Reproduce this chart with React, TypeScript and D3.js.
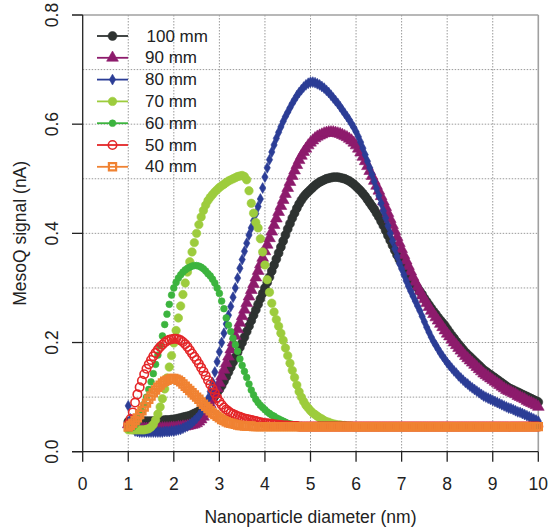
import React from "react";
import * as d3 from "d3";

// Nanoparticle diameter grid (nm), shared by all series
const diameters = [
  1.0, 1.05, 1.1, 1.15, 1.2, 1.25, 1.3, 1.35, 1.4, 1.45,
  1.5, 1.55, 1.6, 1.65, 1.7, 1.75, 1.8, 1.85, 1.9, 1.95,
  2.0, 2.05, 2.1, 2.15, 2.2, 2.25, 2.3, 2.35, 2.4, 2.45,
  2.5, 2.55, 2.6, 2.65, 2.7, 2.75, 2.8, 2.85, 2.9, 2.95,
  3.0, 3.05, 3.1, 3.15, 3.2, 3.25, 3.3, 3.35, 3.4, 3.45,
  3.5, 3.55, 3.6, 3.65, 3.7, 3.75, 3.8, 3.85, 3.9, 3.95,
  4.0, 4.05, 4.1, 4.15, 4.2, 4.25, 4.3, 4.35, 4.4, 4.45,
  4.5, 4.55, 4.6, 4.65, 4.7, 4.75, 4.8, 4.85, 4.9, 4.95,
  5.0, 5.05, 5.1, 5.15, 5.2, 5.25, 5.3, 5.35, 5.4, 5.45,
  5.5, 5.55, 5.6, 5.65, 5.7, 5.75, 5.8, 5.85, 5.9, 5.95,
  6.0, 6.05, 6.1, 6.15, 6.2, 6.25, 6.3, 6.35, 6.4, 6.45,
  6.5, 6.55, 6.6, 6.65, 6.7, 6.75, 6.8, 6.85, 6.9, 6.95,
  7.0, 7.05, 7.1, 7.15, 7.2, 7.25, 7.3, 7.35, 7.4, 7.45,
  7.5, 7.55, 7.6, 7.65, 7.7, 7.75, 7.8, 7.85, 7.9, 7.95,
  8.0, 8.05, 8.1, 8.15, 8.2, 8.25, 8.3, 8.35, 8.4, 8.45,
  8.5, 8.55, 8.6, 8.65, 8.7, 8.75, 8.8, 8.85, 8.9, 8.95,
  9.0, 9.05, 9.1, 9.15, 9.2, 9.25, 9.3, 9.35, 9.4, 9.45,
  9.5, 9.55, 9.6, 9.65, 9.7, 9.75, 9.8, 9.85, 9.9, 9.95,
  10.0,
];

// MesoQ signal (nA) for each distance
const signal100 = [
  .055, .055, .055, .055, .056, .056, .056, .056, .056, .056,
  .056, .056, .057, .057, .057, .057, .058, .058, .058, .059,
  .059, .06, .061, .062, .063, .064, .065, .066, .068, .07,
  .072, .074, .077, .08, .084, .088, .092, .097, .102, .108,
  .114, .121, .129, .137, .146, .155, .164, .173, .182, .191,
  .2, .21, .22, .23, .24, .25, .26, .27, .28, .29,
  .3, .31, .32, .331, .342, .353, .364, .375, .386, .397,
  .408, .418, .428, .437, .446, .454, .461, .467, .472, .476,
  .48, .484, .488, .491, .494, .496, .498, .5, .501, .502,
  .503, .503, .503, .502, .501, .5, .498, .496, .493, .49,
  .486, .482, .478, .473, .468, .462, .456, .45, .444, .437,
  .43, .422, .414, .405, .396, .387, .378, .369, .36, .352,
  .345, .338, .331, .325, .318, .312, .306, .3, .294, .288,
  .281, .275, .269, .263, .257, .252, .246, .241, .236, .231,
  .225, .219, .213, .208, .202, .197, .192, .187, .182, .178,
  .174, .17, .166, .162, .158, .154, .15, .147, .144, .141,
  .138, .135, .132, .129, .126, .123, .12, .117, .115, .113,
  .111, .109, .107, .105, .103, .101, .099, .097, .095, .093,
  .091,
];

const signal90 = [
  .05, .047, .045, .044, .043, .042, .042, .042, .042, .042,
  .042, .042, .042, .042, .042, .043, .043, .043, .043, .044,
  .044, .044, .045, .045, .046, .046, .047, .048, .049, .05,
  .052, .055, .059, .064, .07, .078, .087, .096, .106, .116,
  .126, .138, .15, .162, .174, .187, .2, .212, .224, .236,
  .248, .26, .272, .284, .296, .307, .319, .331, .343, .355,
  .367, .379, .391, .403, .415, .427, .439, .45, .461, .472,
  .483, .494, .505, .515, .525, .534, .542, .549, .555, .561,
  .566, .57, .574, .577, .579, .581, .583, .584, .585, .585,
  .585, .584, .583, .582, .58, .578, .576, .573, .57, .566,
  .561, .555, .548, .54, .532, .523, .514, .505, .496, .487,
  .478, .468, .458, .448, .437, .426, .415, .404, .393, .382,
  .371, .36, .35, .34, .33, .32, .311, .302, .294, .286,
  .279, .272, .265, .258, .252, .246, .24, .234, .228, .222,
  .216, .211, .205, .2, .195, .19, .185, .18, .175, .171,
  .167, .163, .159, .155, .151, .147, .143, .14, .137, .134,
  .131, .128, .125, .122, .119, .116, .113, .111, .109, .107,
  .105, .102, .1, .098, .096, .093, .091, .089, .087, .085,
  .082,
];

const signal80 = [
  .084, .06, .042, .038, .037, .036, .036, .036, .036, .036,
  .036, .036, .036, .036, .036, .036, .037, .037, .037, .038,
  .038, .039, .04, .041, .043, .045, .047, .05, .053, .057,
  .061, .066, .072, .079, .087, .097, .11, .127, .146, .165,
  .183, .2, .217, .234, .25, .266, .283, .3, .318, .336,
  .352, .367, .382, .397, .41, .423, .436, .449, .463, .483,
  .503, .52, .535, .549, .562, .574, .585, .595, .605, .614,
  .622, .63, .638, .645, .652, .658, .663, .668, .672, .675,
  .677, .677, .676, .674, .672, .669, .666, .662, .658, .653,
  .648, .643, .638, .632, .626, .62, .614, .608, .601, .594,
  .586, .577, .567, .556, .544, .532, .52, .508, .495, .482,
  .469, .455, .441, .428, .414, .4, .386, .372, .358, .345,
  .335, .324, .313, .303, .294, .285, .276, .267, .258, .248,
  .238, .228, .219, .21, .202, .195, .188, .181, .175, .169,
  .163, .158, .153, .148, .144, .139, .135, .131, .127, .124,
  .12, .117, .114, .111, .108, .105, .102, .1, .098, .096,
  .094, .092, .09, .088, .086, .084, .082, .08, .079, .077,
  .075, .073, .072, .07, .068, .066, .064, .062, .06, .058,
  .056,
];

const signal70 = [
  .04, .04, .04, .04, .04, .04, .04, .04, .041, .042,
  .045, .05, .058, .069, .082, .097, .115, .135, .155, .176,
  .199, .222, .245, .267, .288, .309, .329, .348, .366, .383,
  .4, .416, .43, .442, .452, .46, .466, .471, .476, .48,
  .484, .487, .49, .493, .496, .498, .5, .502, .504, .505,
  .506, .504, .498, .478, .455, .437, .42, .41, .39, .366,
  .342, .315, .292, .272, .256, .242, .23, .217, .204, .19,
  .176, .162, .149, .136, .122, .11, .1, .092, .085, .08,
  .075, .071, .068, .065, .062, .06, .057, .055, .054, .052,
  .051, .05, .049, .049, .048, .048, .047, .047, .047, .046,
  .046, .046, .046, .046, .046, .046, .046, .046, .046, .046,
  .046, .046, .046, .046, .046, .046, .046, .046, .046, .046,
  .046, .046, .046, .046, .046, .046, .046, .046, .046, .046,
  .046, .046, .046, .046, .046, .046, .046, .046, .046, .046,
  .046, .046, .046, .046, .046, .046, .046, .046, .046, .046,
  .046, .046, .046, .046, .046, .046, .046, .046, .046, .046,
  .046, .046, .046, .046, .046, .046, .046, .046, .046, .046,
  .046, .046, .046, .046, .046, .046, .046, .046, .046, .046,
  .046,
];

const signal60 = [
  .042, .043, .045, .049, .055, .063, .074, .087, .1, .114,
  .128, .143, .16, .177, .194, .212, .233, .252, .27, .287,
  .3, .31, .318, .324, .329, .333, .336, .338, .34, .341,
  .341, .34, .338, .335, .331, .326, .322, .316, .309, .3,
  .29, .276, .262, .245, .232, .22, .208, .196, .184, .17,
  .158, .147, .136, .124, .113, .104, .096, .09, .085, .081,
  .077, .073, .07, .067, .065, .062, .06, .058, .056, .054,
  .052, .051, .05, .049, .049, .048, .048, .047, .047, .047,
  .046, .046, .046, .046, .046, .046, .046, .046, .046, .046,
  .046, .046, .046, .046, .046, .046, .046, .046, .046, .046,
  .046, .046, .046, .046, .046, .046, .046, .046, .046, .046,
  .046, .046, .046, .046, .046, .046, .046, .046, .046, .046,
  .046, .046, .046, .046, .046, .046, .046, .046, .046, .046,
  .046, .046, .046, .046, .046, .046, .046, .046, .046, .046,
  .046, .046, .046, .046, .046, .046, .046, .046, .046, .046,
  .046, .046, .046, .046, .046, .046, .046, .046, .046, .046,
  .046, .046, .046, .046, .046, .046, .046, .046, .046, .046,
  .046, .046, .046, .046, .046, .046, .046, .046, .046, .046,
  .046,
];

const signal50 = [
  .05, .06, .072, .09, .105, .118, .13, .142, .152, .16,
  .168, .175, .181, .187, .192, .196, .2, .203, .205, .206,
  .207, .207, .206, .204, .201, .197, .192, .186, .18, .174,
  .168, .161, .154, .147, .139, .131, .123, .115, .107, .099,
  .092, .086, .081, .077, .074, .071, .069, .067, .065, .064,
  .062, .061, .06, .059, .058, .057, .056, .055, .054, .053,
  .052, .052, .051, .051, .05, .05, .049, .049, .048, .048,
  .048, .047, .047, .047, .047, .046, .046, .046, .046, .046,
  .046, .046, .046, .046, .046, .046, .046, .046, .046, .046,
  .046, .046, .046, .046, .046, .046, .046, .046, .046, .046,
  .046, .046, .046, .046, .046, .046, .046, .046, .046, .046,
  .046, .046, .046, .046, .046, .046, .046, .046, .046, .046,
  .046, .046, .046, .046, .046, .046, .046, .046, .046, .046,
  .046, .046, .046, .046, .046, .046, .046, .046, .046, .046,
  .046, .046, .046, .046, .046, .046, .046, .046, .046, .046,
  .046, .046, .046, .046, .046, .046, .046, .046, .046, .046,
  .046, .046, .046, .046, .046, .046, .046, .046, .046, .046,
  .046, .046, .046, .046, .046, .046, .046, .046, .046, .046,
  .046,
];

const signal40 = [
  .045, .048, .052, .057, .062, .068, .075, .082, .089, .096,
  .102, .108, .113, .118, .122, .126, .129, .131, .133, .134,
  .134, .133, .131, .128, .124, .12, .116, .112, .108, .104,
  .1, .096, .091, .087, .083, .079, .075, .071, .068, .065,
  .062, .059, .057, .055, .053, .052, .051, .05, .049, .048,
  .048, .047, .047, .047, .047, .046, .046, .046, .046, .046,
  .046, .046, .046, .046, .046, .046, .046, .046, .046, .046,
  .046, .046, .046, .046, .046, .046, .046, .046, .046, .046,
  .046, .046, .046, .046, .046, .046, .046, .046, .046, .046,
  .046, .046, .046, .046, .046, .046, .046, .046, .046, .046,
  .046, .046, .046, .046, .046, .046, .046, .046, .046, .046,
  .046, .046, .046, .046, .046, .046, .046, .046, .046, .046,
  .046, .046, .046, .046, .046, .046, .046, .046, .046, .046,
  .046, .046, .046, .046, .046, .046, .046, .046, .046, .046,
  .046, .046, .046, .046, .046, .046, .046, .046, .046, .046,
  .046, .046, .046, .046, .046, .046, .046, .046, .046, .046,
  .046, .046, .046, .046, .046, .046, .046, .046, .046, .046,
  .046, .046, .046, .046, .046, .046, .046, .046, .046, .046,
  .046,
];

const seriesLabels = ["100 mm", "90 mm", "80 mm", "70 mm", "60 mm", "50 mm", "40 mm"];
const xTicks = [0, 1, 2, 3, 4, 5, 6, 7, 8, 9, 10];
const yTicks = [0, 0.2, 0.4, 0.6, 0.8];
const yGrid = [0.1, 0.2, 0.3, 0.4, 0.5, 0.6, 0.7];
const xGrid = [1, 2, 3, 4, 5, 6, 7, 8, 9];

const W = 549;
const H = 529;
const FONT = "'Liberation Sans', Arial, sans-serif";

type Style = {
  color: string;
  shape: d3.SymbolType;
  size: number;
  filled: boolean;
  strokeWidth?: number;
};

const styles: Style[] = [
  { color: "#2e3331", shape: d3.symbolCircle, size: 62, filled: true },
  { color: "#8d1b6c", shape: d3.symbolTriangle, size: 60, filled: true },
  { color: "#2b3d96", shape: d3.symbolDiamond, size: 34, filled: true },
  { color: "#9dcc3d", shape: d3.symbolCircle, size: 56, filled: true },
  { color: "#3cb43e", shape: d3.symbolCircle, size: 36, filled: true },
  { color: "#e42628", shape: d3.symbolCircle, size: 56, filled: false, strokeWidth: 1.6 },
  { color: "#f08232", shape: d3.symbolSquare, size: 52, filled: false, strokeWidth: 2.2 },
];

const allSignals = [signal100, signal90, signal80, signal70, signal60, signal50, signal40];

export default function App() {
  const x = d3.scaleLinear().domain([0, 10]).range([82.7, 538.3]);
  const y = d3.scaleLinear().domain([0, 0.8]).range([451.7, 15]);
  const [x0, x1] = x.range();
  const [yb, yt] = y.range();

  const series = seriesLabels.map((label, i) => ({
    label,
    style: styles[i],
    points: diameters.map((d, j) => ({ d, v: allSignals[i][j] })),
  }));

  const marker = (s: Style, cx: number, cy: number, key: string | number) => {
    const p = d3.symbol().type(s.shape).size(s.size)();
    return (
      <path
        key={key}
        d={p || ""}
        transform={`translate(${cx},${cy})`}
        fill={s.filled ? s.color : "none"}
        stroke={s.color}
        strokeWidth={s.filled ? 0.6 : s.strokeWidth}
      />
    );
  };

  const legendX0 = 97;
  const legendX1 = 128;
  const legendY0 = 36;
  const legendDy = 21.8;

  return (
    <svg
      width={W}
      height={H}
      style={{ position: "absolute", left: 0, top: 0, background: "#fff" }}
      fontFamily={FONT}
    >
      {/* grid */}
      {xGrid.map((g) => (
        <line key={"gx" + g} x1={x(g)} x2={x(g)} y1={yt} y2={yb}
          stroke="#9a9a9a" strokeWidth={1} strokeDasharray="1.5,1.5" />
      ))}
      {yGrid.map((g) => (
        <line key={"gy" + g} x1={x0} x2={x1} y1={y(g)} y2={y(g)}
          stroke="#9a9a9a" strokeWidth={1} strokeDasharray="1.5,1.5" />
      ))}

      {/* frame top/right */}
      <line x1={72} x2={x1} y1={yt} y2={yt} stroke="#a0a0a0" strokeWidth={1.6} />
      <line x1={x1} x2={x1} y1={yt} y2={yb} stroke="#a0a0a0" strokeWidth={1.6} />

      {/* data */}
      {series.map((s) => (
        <g key={s.label}>
          {s.points.map((p, j) => marker(s.style, x(p.d), y(p.v), j))}
        </g>
      ))}

      {/* axes */}
      <line x1={x0} x2={x0} y1={yt} y2={yb} stroke="#222" strokeWidth={1.3} />
      <line x1={72} x2={x1} y1={yb} y2={yb} stroke="#222" strokeWidth={1.3} />
      {yTicks.map((t) => (
        <g key={"yt" + t}>
          <line x1={72} x2={x0} y1={y(t)} y2={y(t)} stroke="#222" strokeWidth={1.3} />
          <text
            transform={`translate(${51.7},${y(t)}) rotate(-90)`}
            textAnchor="middle"
            dominantBaseline="central"
            fontSize={17.5}
            fill="#222"
          >
            {t.toFixed(1)}
          </text>
        </g>
      ))}
      {xTicks.map((t) => (
        <g key={"xt" + t}>
          <line x1={x(t)} x2={x(t)} y1={yb} y2={yb + 10} stroke="#222" strokeWidth={1.3} />
          <text x={x(t)} y={489.5} textAnchor="middle" fontSize={17.5} fill="#222">
            {t}
          </text>
        </g>
      ))}

      {/* axis titles */}
      <text x={(x0 + x1) / 2} y={523} textAnchor="middle" fontSize={17.5} fill="#222">
        Nanoparticle diameter (nm)
      </text>
      <text
        transform={`translate(${20},${(yt + yb) / 2}) rotate(-90)`}
        textAnchor="middle"
        dominantBaseline="central"
        fontSize={17.5}
        fill="#222"
      >
        MesoQ signal (nA)
      </text>

      {/* legend */}
      {series.map((s, i) => {
        const ly = legendY0 + i * legendDy;
        return (
          <g key={"lg" + s.label}>
            <line x1={legendX0} x2={legendX1} y1={ly} y2={ly} stroke={s.style.color} strokeWidth={1.8} />
            {marker(s.style, (legendX0 + legendX1) / 2, ly, "m")}
            <text x={i === 0 ? 146.5 : 145} y={ly} dominantBaseline="central" fontSize={17} fill="#222">
              {s.label}
            </text>
          </g>
        );
      })}
    </svg>
  );
}
